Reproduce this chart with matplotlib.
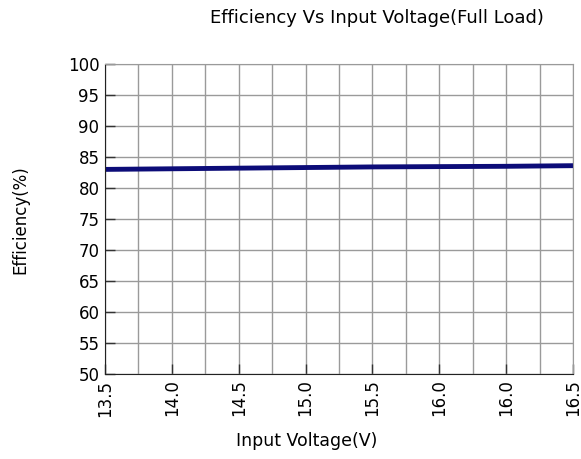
import numpy as np
import matplotlib
matplotlib.use('Agg')
import matplotlib.pyplot as plt
from matplotlib.ticker import MultipleLocator

# donnees
x_labels = ['13.5', '14.0', '14.5', '15.0', '15.5', '16.0', '16.0', '16.5']
efficiency = [83.0, 83.1, 83.2, 83.3, 83.4, 83.45, 83.5, 83.6]
y_ticks = [50, 55, 60, 65, 70, 75, 80, 85, 90, 95, 100]

fig = plt.figure(figsize=(5.81, 4.59), dpi=100)
ax = fig.add_axes([105/581, 1-374/459, 468/581, 310/459])

x = np.arange(len(x_labels))
ax.plot(x, efficiency, color='#0c0c78', linewidth=3.5, solid_capstyle='butt')

ax.set_xlim(0, len(x_labels)-1)
ax.set_ylim(50, 100)
ax.set_xticks(x)
ax.set_xticklabels(x_labels, rotation=90, fontsize=12)
ax.xaxis.set_minor_locator(MultipleLocator(0.5))
ax.set_yticks(y_ticks)
ax.set_yticklabels([str(v) for v in y_ticks], fontsize=12)

ax.grid(True, which='both', color='#9a9a9a', linewidth=1)
ax.set_axisbelow(True)
ax.tick_params(which='major', direction='in', length=7, width=1, color='#333333', pad=4)
ax.tick_params(which='minor', length=0)
for s in ['top', 'right']:
    ax.spines[s].set_color('#9a9a9a')
for s in ['left', 'bottom']:
    ax.spines[s].set_color('#222222')

fig.text(377/581, 1-18/459, 'Efficiency Vs Input Voltage(Full Load)', ha='center', va='center', fontsize=13)
fig.text(307/581, 1-441/459, 'Input Voltage(V)', ha='center', va='center', fontsize=12.5)
fig.text(20/581, 1-220/459, 'Efficiency(%)', ha='center', va='center', rotation=90, fontsize=12)

fig.savefig('out.png', dpi=100)
